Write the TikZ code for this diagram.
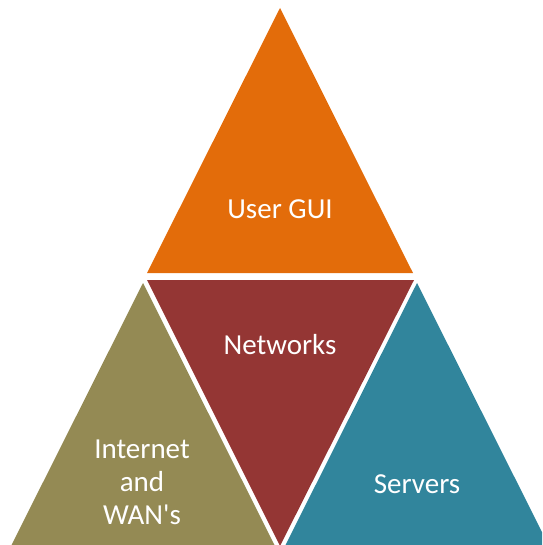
\documentclass[tikz,border=0pt]{standalone}
\usepackage{fontspec}
\setmainfont{Carlito}
\definecolor{gui}{HTML}{E36C0A}
\definecolor{net}{HTML}{943634}
\definecolor{wan}{HTML}{948A54}
\definecolor{srv}{HTML}{31859C}
\tikzset{label/.style={text=white, align=center, font=\fontsize{29}{33}\selectfont}}
\begin{document}
\begin{tikzpicture}[x=1pt, y=-1pt]
\useasboundingbox (0,0) rectangle (542,545);
\clip (0,0) rectangle (542,545);

\fill[gui] (280,8) -- (413,273) -- (147,273) -- cycle;
\fill[net] (147,280) -- (414,280) -- (280,546) -- cycle;
\fill[wan] (143,283) -- (275,546) -- (11,546) -- cycle;
\fill[srv] (417,283) -- (549,546) -- (285,546) -- cycle;

\node[label] (gui) at (280,209) {User GUI};
\node[label] (net) at (280,345) {Networks};
\node[label] (wan) at (142,482) {Internet\\and\\WAN\textquotesingle s};
\node[label] (srv) at (417,484) {Servers};
\end{tikzpicture}
\end{document}
